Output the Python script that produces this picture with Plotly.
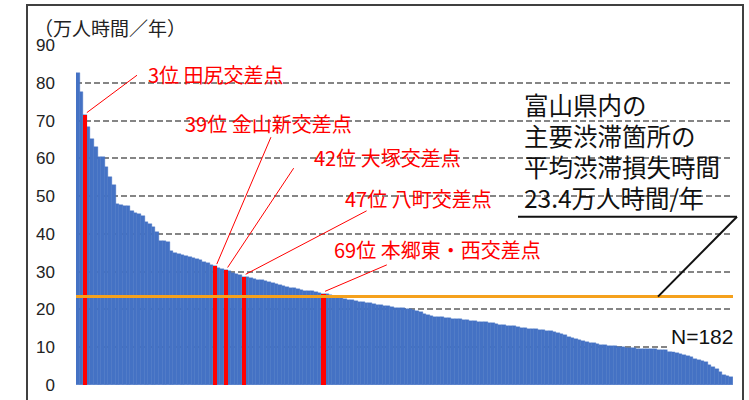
import plotly.graph_objects as go

# ---------------- data ----------------
ranks = list(range(1, 183))
hours = [82.5, 77.5, 71.5, 68.3, 65.2, 63.0, 60.4, 60.3, 57.8, 55.1,
         52.9, 47.8, 47.6, 47.5, 47.3, 46.0, 45.6, 45.2, 44.8, 43.2,
         42.5, 41.8, 40.6, 38.2, 38.0, 37.8, 35.5, 35.0, 34.8, 34.5,
         34.2, 33.9, 33.6, 33.3, 33.0, 32.6, 32.2, 31.8, 31.4, 31.1,
         30.8, 30.5, 30.1, 29.7, 29.4, 29.0, 28.7, 28.5, 28.3, 28.1,
         27.9, 27.7, 27.5, 27.2, 27.0, 26.7, 26.4, 26.2, 26.0, 25.8,
         25.6, 25.4, 25.2, 25.0, 24.9, 24.8, 24.6, 24.4, 24.2, 24.0,
         23.8, 23.5, 23.2, 23.0, 22.8, 22.6, 22.4, 22.2, 22.0, 21.9,
         21.7, 21.6, 21.4, 21.3, 21.1, 21.0, 20.8, 20.7, 20.5, 20.4,
         20.3, 20.2, 20.0, 19.8, 19.5, 19.2, 18.9, 18.6, 18.3, 18.1,
         18.0, 17.9, 17.8, 17.7, 17.6, 17.5, 17.4, 17.3, 17.2, 17.0,
         16.9, 16.8, 16.7, 16.6, 16.5, 16.4, 16.2, 16.0, 15.9, 15.7,
         15.6, 15.5, 15.3, 15.2, 15.0, 14.9, 14.8, 14.7, 14.6, 14.5,
         14.4, 14.3, 14.1, 13.8, 13.5, 13.2, 12.8, 12.4, 12.1, 11.8,
         11.6, 11.4, 11.2, 11.0, 10.8, 10.6, 10.5, 10.4, 10.3, 10.2,
         10.1, 10.0, 9.9, 9.8, 9.7, 9.6, 9.6, 9.5, 9.5, 9.4,
         9.4, 9.3, 9.3, 9.2, 9.1, 8.8, 8.4, 8.1, 7.9, 7.6,
         7.3, 7.0, 6.7, 6.4, 6.0, 5.4, 4.8, 4.2, 3.4, 2.6,
         2.3, 2.2]
highlight_ranks = [3, 39, 42, 47, 69]
highlight_labels = ["3位 田尻交差点", "39位 金山新交差点", "42位 大塚交差点",
                    "47位 八町交差点", "69位 本郷東・西交差点"]
average = 23.4
y_ticks = [0, 10, 20, 30, 40, 50, 60, 70, 80, 90]
unit_label = "（万人時間／年）"
note_lines = ["富山県内の", "主要渋滞箇所の", "平均渋滞損失時間", "23.4万人時間/年"]
n_label = "N=182"

# ---------------- layout helpers (positions) ----------------
label_pos = [(19.9, 82.1), (30.1, 69.3), (65.9, 60.35), (74.5, 49.5), (71.4, 36.0)]
leader_end = [(17.4, 82.0), (54.5, 65.6), (60.8, 57.4), (81.0, 46.1), (86.6, 31.8)]
note_y_px = [104, 135, 166.5, 197.5]

BLUE = "#4472C4"
RED = "#FF0000"
ORANGE = "#F5A11C"
NUM_FONT = "Liberation Sans Narrow, Arial Narrow, Liberation Sans, Arial"
JP_FONT = "Noto Sans CJK JP, Noto Sans, sans-serif"

W, H = 749, 400
ML, MR, MT, MB = 76, 16, 45, 15
PW, PH = W - ML - MR, H - MT - MB


def px_to_paper(xp, yp):
    return (xp - ML) / PW, (H - MB - yp) / PH


fig = go.Figure()
fig.add_trace(go.Bar(x=ranks, y=hours, width=1.0, marker=dict(color=BLUE, line=dict(width=0.4, color=BLUE)),
                     hoverinfo="skip"))
hv = [hours[r - 1] for r in highlight_ranks]
fig.add_trace(go.Bar(x=highlight_ranks, y=hv, width=1.25, marker=dict(color=RED, line=dict(width=0)),
                     hoverinfo="skip"))

shapes = []
annotations = []

# average line
shapes.append(dict(type="line", xref="x", yref="y", x0=0.5, x1=182.5, y0=average, y1=average,
                   line=dict(color=ORANGE, width=3), layer="above"))

# leader lines and red labels
for r, v, lab, (lx, ly), (ex, ey) in zip(highlight_ranks, hv, highlight_labels, label_pos, leader_end):
    shapes.append(dict(type="line", xref="x", yref="y", x0=r + 0.5, y0=v + 0.6, x1=ex, y1=ey,
                       line=dict(color=RED, width=1)))
    annotations.append(dict(x=lx, y=ly, xref="x", yref="y", text=lab, showarrow=False,
                            xanchor="left", yanchor="middle",
                            font=dict(family=JP_FONT, size=20, color=RED)))

# note text block
for line, yp in zip(note_lines, note_y_px):
    px, py = px_to_paper(522, yp)
    annotations.append(dict(x=px, y=py, xref="paper", yref="paper", text=line, showarrow=False,
                            xanchor="left", yanchor="middle",
                            font=dict(family=JP_FONT, size=24.5, color="#111111")))

# underline + connector to average line
ux0, uy = px_to_paper(518, 216.7)
ux1, _ = px_to_paper(737, 216.7)
dx, _ = px_to_paper(658, 0)
shapes.append(dict(type="line", xref="paper", yref="paper", x0=ux0, x1=ux1, y0=uy, y1=uy,
                   line=dict(color="#111111", width=2)))
shapes.append(dict(type="line", xref="paper", yref="paper", x0=ux1, y0=uy, x1=dx, y1=average / 90,
                   line=dict(color="#111111", width=2)))

# unit label
tx, ty = px_to_paper(32, 28)
annotations.append(dict(x=tx, y=ty, xref="paper", yref="paper", text=unit_label, showarrow=False,
                        xanchor="left", yanchor="middle",
                        font=dict(family=JP_FONT, size=19, color="#222222")))

# N label
nx, ny = px_to_paper(701.5, 336.5)
annotations.append(dict(x=nx, y=ny, xref="paper", yref="paper", text=n_label, showarrow=False,
                        xanchor="center", yanchor="middle", bgcolor="white", borderpad=3,
                        font=dict(family=NUM_FONT, size=21, color="#111111")))

# outer frame
fx0, fy0 = px_to_paper(27, 402)
fx1, fy1 = px_to_paper(743, 5)
shapes.append(dict(type="rect", xref="paper", yref="paper", x0=fx0, x1=fx1, y0=fy0, y1=fy1,
                   line=dict(color="#404040", width=2), fillcolor="rgba(0,0,0,0)"))

fig.update_layout(
    width=W, height=H,
    margin=dict(l=ML, r=MR, t=MT, b=MB, pad=0, autoexpand=False),
    paper_bgcolor="white", plot_bgcolor="white",
    barmode="overlay", bargap=0, showlegend=False,
    shapes=shapes, annotations=annotations,
    xaxis=dict(range=[0.5, 182.5], visible=False, fixedrange=True, automargin=False),
    yaxis=dict(range=[0, 90], tickvals=y_ticks, showgrid=True, gridcolor="#858585", gridwidth=1.6,
               griddash="6px,3px", zeroline=False, showline=False, ticks="",
               ticklabelstandoff=20, automargin=False,
               tickfont=dict(family=NUM_FONT, size=17, color="#222222")),
)

fig.write_html("out.html")
